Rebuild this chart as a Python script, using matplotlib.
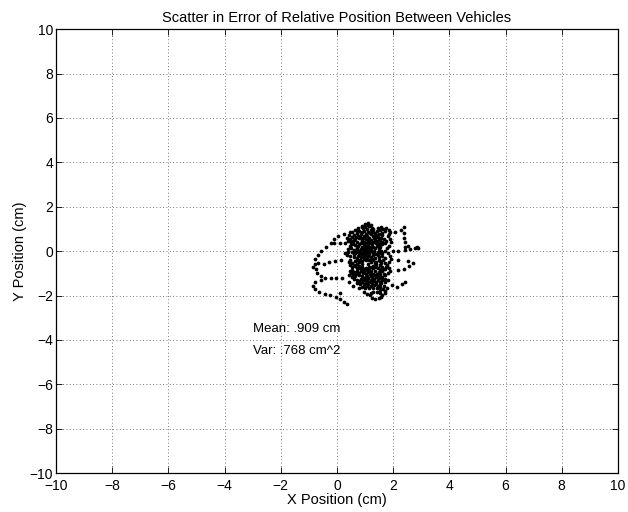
import matplotlib.pyplot as plt

# Position error samples (cm), grouped by region
upper_left_arc = [
    (0.90, 1.07), (0.70, 0.97), (0.48, 0.86), (0.26, 0.77), (0.05, 0.68), (-0.12, 0.56),
    (-0.22, 0.38), (-0.38, 0.20), (-0.55, 0.02), (-0.68, -0.16), (-0.77, -0.36), (-0.79, -0.58),
    (-0.74, -0.80), (-0.70, -1.00), (-0.58, -1.14), (-0.42, -1.23), (-0.22, -1.23), (-0.02, -1.23),
    (0.18, -1.21), (-0.86, -0.72),
]
middle_rows = [
    (-0.67, -0.53), (-0.47, -0.56), (-0.27, -0.50), (-0.07, -0.44), (0.13, -0.38),
    (-0.10, 0.37), (0.10, 0.37), (0.30, 0.36), (0.50, 0.35),
]
lower_left_arc = [
    (-0.58, -1.32), (-0.78, -1.39), (-0.85, -1.55), (-0.77, -1.72), (-0.62, -1.85), (-0.43, -1.93),
    (-0.23, -1.99), (-0.03, -2.06), (0.12, -2.16), (0.24, -2.30), (0.36, -2.36), (0.10, -1.90),
    (0.44, -1.40), (0.58, -1.55), (0.79, -1.65), (0.95, -1.82), (1.06, -1.91),
]
right_arm = [
    (1.40, 0.64), (1.62, 0.71), (1.84, 0.79), (2.06, 0.86), (2.28, 0.94), (2.38, 1.08),
    (2.39, 0.82), (2.40, 0.60), (2.41, 0.40), (2.42, 0.20), (2.42, 0.04), (2.60, 0.09),
    (2.78, 0.12), (2.90, 0.13), (2.85, 0.18), (2.54, 0.21), (2.00, -0.01), (2.18, -0.01),
    (2.18, -0.39), (2.54, -0.46), (2.72, -0.53), (2.58, -0.68), (2.38, -0.80), (2.18, -0.86),
    (1.71, -1.08), (1.83, -1.30), (1.95, -1.53), (2.12, -1.60), (2.30, -1.48), (2.42, -1.40),
]
bottom_loop = [
    (1.62, -1.98), (1.58, -2.08), (1.48, -2.13), (1.36, -2.14), (1.24, -2.09), (1.17, -1.99),
    (1.20, -1.88), (1.30, -1.83), (1.42, -1.82), (1.54, -1.87),
]
core = [
    (1.11, 1.27), (1.05, 1.18), (1.15, 1.12), (1.25, 1.05), (1.20, 0.95), (1.08, 0.98),
    (0.98, 0.92), (0.90, 0.85), (0.85, 0.75), (0.95, 0.70), (1.05, 0.78), (1.18, 0.82),
    (1.30, 0.88), (1.42, 0.92), (1.55, 0.95), (1.65, 1.00), (1.70, 0.90), (1.62, 0.82),
    (1.50, 0.78), (1.38, 0.72), (1.28, 0.66), (1.15, 0.60), (1.02, 0.55), (0.90, 0.52),
    (0.78, 0.58), (0.68, 0.64), (0.60, 0.72), (0.55, 0.62), (0.62, 0.50), (0.72, 0.42),
    (0.85, 0.38), (0.98, 0.40), (1.10, 0.45), (1.22, 0.48), (1.35, 0.50), (1.48, 0.55),
    (1.58, 0.60), (1.68, 0.55), (1.75, 0.45), (1.70, 0.35), (1.60, 0.30), (1.48, 0.32),
    (1.38, 0.35), (1.25, 0.30), (1.12, 0.25), (1.00, 0.22), (0.88, 0.20), (0.75, 0.22),
    (0.65, 0.28), (0.52, 0.30), (0.45, 0.22), (0.50, 0.12),
    (0.60, 0.05), (0.72, 0.10), (0.85, 0.08), (0.98, 0.05), (1.10, 0.10), (1.22, 0.14),
    (1.35, 0.12), (1.48, 0.08), (1.58, 0.02), (1.52, -0.08), (1.40, -0.12), (1.28, -0.08),
    (1.15, -0.05), (1.02, -0.10), (0.90, -0.15), (0.78, -0.12), (0.65, -0.08), (0.52, -0.05),
    (0.40, -0.02), (0.30, -0.08), (0.35, -0.18), (0.48, -0.22), (0.60, -0.25), (0.72, -0.30),
    (0.85, -0.28), (0.98, -0.25), (1.10, -0.22), (1.22, -0.25), (1.35, -0.30), (1.48, -0.28),
    (1.60, -0.22), (1.70, -0.30), (1.65, -0.42), (1.52, -0.45), (1.40, -0.48), (1.28, -0.42),
    (1.15, -0.38), (1.02, -0.40), (0.90, -0.45), (0.78, -0.48), (0.65, -0.45), (0.55, -0.52),
    (0.48, -0.62), (0.55, -0.72), (0.65, -0.68), (0.78, -0.65), (0.90, -0.70), (1.02, -0.75),
    (1.15, -0.72), (1.28, -0.65), (1.40, -0.60), (1.52, -0.62), (1.62, -0.70), (1.70, -0.80),
    (1.60, -0.88), (1.48, -0.92), (1.35, -0.88), (1.22, -0.90), (1.10, -0.95), (0.98, -0.92),
    (0.85, -0.88), (0.72, -0.90), (0.60, -0.95), (0.50, -1.00), (0.42, -1.08), (0.52, -1.15),
    (0.65, -1.12), (0.78, -1.08), (0.90, -1.10), (1.02, -1.15), (1.12, -1.20), (1.25, -1.18),
    (1.38, -1.15), (1.50, -1.20), (1.60, -1.28), (1.52, -1.38), (1.40, -1.40), (1.28, -1.35),
    (1.15, -1.38), (1.02, -1.42), (0.90, -1.40), (0.80, -1.35), (0.70, -1.42), (0.82, -1.50),
    (0.95, -1.55), (1.08, -1.58), (1.20, -1.55), (1.32, -1.52), (1.45, -1.55), (1.55, -1.62),
    (1.65, -1.70), (1.72, -1.78), (1.70, -1.88),
]
core_extra = [
    (0.70, 0.80), (0.80, 0.90), (0.92, 1.02), (1.00, 1.10), (1.30, 1.00), (1.45, 1.05),
    (1.58, 1.10), (1.75, 1.05), (1.85, 0.95), (1.90, 0.85), (1.82, 0.68), (1.88, 0.55),
    (1.92, 0.40), (1.85, 0.25), (1.78, 0.12), (1.70, 0.02), (1.80, -0.10), (1.88, -0.20),
    (1.92, -0.35), (1.85, -0.50), (1.78, -0.62), (1.85, -0.75), (1.90, -0.90), (1.80, -1.00),
    (1.68, -1.05), (1.55, -1.02), (1.42, -1.05), (1.30, -1.02), (1.18, -1.05), (1.05, -1.02),
    (0.92, -1.00), (0.80, -0.98), (0.68, -1.02), (0.58, -1.08), (0.62, -1.25), (0.72, -1.30),
    (0.85, -1.25), (0.95, -1.28), (1.08, -1.30), (1.20, -1.28), (1.32, -1.25), (1.45, -1.30),
    (1.58, -1.45), (1.68, -1.55), (0.40, 0.10), (0.38, 0.45), (0.45, 0.55), (0.52, 0.85),
    (0.65, 0.95), (0.75, 1.05), (0.88, 1.12), (1.00, 1.22), (1.20, 1.20), (0.95, 0.30),
    (1.05, 0.35), (1.15, 0.38), (0.80, 0.30), (0.70, 0.15), (0.60, -0.15), (0.75, -0.20),
    (0.95, -0.35), (1.20, -0.50), (1.35, -0.55), (1.10, -0.60), (0.88, -0.58), (0.70, -0.58),
    (0.60, -0.62), (1.45, -0.75), (1.30, -0.78), (1.15, -0.82), (0.98, -0.82), (0.85, -0.78),
    (0.70, -0.78),
]
core_fill = [
    (0.35, 0.60), (0.42, 0.72), (0.50, 0.45), (0.58, 0.38), (0.66, 0.55), (0.74, 0.68),
    (0.82, 0.62), (0.88, 0.45), (0.92, 0.60), (1.00, 0.65), (1.08, 0.68), (1.12, 0.88),
    (1.22, 0.75), (1.35, 0.80), (1.45, 0.68), (1.32, 0.58), (1.20, 0.40), (1.30, 0.42),
    (1.42, 0.45), (1.55, 0.45), (1.62, 0.40), (1.55, 0.20), (1.42, 0.22), (1.30, 0.20),
    (1.18, 0.18), (1.05, 0.15), (0.92, 0.12), (0.78, 0.02), (0.68, -0.02), (0.85, -0.05),
    (0.95, -0.05), (1.08, 0.00), (1.20, 0.02), (1.32, 0.02), (1.45, -0.02), (1.62, -0.10),
    (1.45, -0.18), (1.30, -0.18), (1.15, -0.15), (1.00, -0.18), (0.45, -0.40), (0.42, -0.50),
    (0.70, -0.38), (0.82, -0.38), (1.08, -0.30), (1.25, -0.35), (1.50, -0.38), (1.58, -0.52),
    (1.70, -0.52), (1.75, -0.70), (1.65, -0.80), (1.52, -0.80), (1.38, -0.70), (1.25, -0.72),
    (1.08, -0.85), (0.92, -0.80), (0.78, -0.75), (0.55, -0.85), (0.45, -0.90), (0.95, -1.20),
    (1.08, -1.12), (1.20, -1.12), (1.35, -1.08), (1.48, -1.10), (1.62, -1.15), (1.72, -1.25),
    (1.70, -1.40), (1.55, -1.50), (1.40, -1.48), (1.25, -1.45), (1.12, -1.48), (0.98, -1.48),
    (0.88, -1.60), (1.00, -1.68), (1.15, -1.68), (1.28, -1.65), (1.42, -1.65), (1.55, -1.75),
    (1.78, -1.65),
]

ticks = [-10, -8, -6, -4, -2, 0, 2, 4, 6, 8, 10]
mean_txt = "Mean: .909 cm"
var_txt = "Var: .768 cm^2"

pts = (upper_left_arc + middle_rows + lower_left_arc + right_arm + bottom_loop
       + core + core_extra + core_fill)
xs = [p[0] for p in pts]
ys = [p[1] for p in pts]

plt.rcParams["font.family"] = ["Liberation Sans", "DejaVu Sans"]
plt.rcParams["axes.unicode_minus"] = True

fig = plt.figure(figsize=(6.28, 5.12), dpi=100)
ax = fig.add_axes([0.089, 0.076, 0.895, 0.867])

ax.plot(xs, ys, linestyle="none", marker="o", markersize=2.7,
        markeredgewidth=0, color="black")

ax.set_xlim(-10, 10)
ax.set_ylim(-10, 10)
ax.set_xticks(ticks)
ax.set_yticks(ticks)
ax.grid(True, color="0.3", linestyle=(0, (1, 3)), linewidth=0.6)
ax.tick_params(direction="in", top=True, right=True, length=4, width=0.6, labelsize=10)
ax.tick_params(axis="x", pad=4)
ax.tick_params(axis="y", pad=2)
for s in ax.spines.values():
    s.set_linewidth(0.9)

ax.text(-3, -3.5, mean_txt, fontsize=9.5, va="center", ha="left")
ax.text(-3, -4.5, var_txt, fontsize=9.5, va="center", ha="left")

ax.set_title("Scatter in Error of Relative Position Between Vehicles", fontsize=10.5, pad=5)
ax.set_xlabel("X Position (cm)", fontsize=10.5, labelpad=0)
ax.set_ylabel("Y Position (cm)", fontsize=10.5, labelpad=2)

fig.savefig("out.png", dpi=100)
